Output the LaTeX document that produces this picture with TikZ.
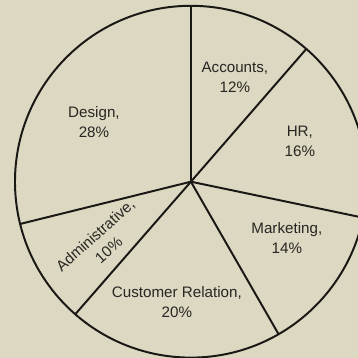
\documentclass[tikz,border=0pt]{standalone}
\usepackage{fontspec}
\setmainfont{Liberation Sans}
\usetikzlibrary{positioning}
\definecolor{bgpaper}{RGB}{220, 216, 194}
\definecolor{inkline}{RGB}{26, 24, 20}
\definecolor{inktext}{RGB}{40, 38, 34}

\begin{document}
\begin{tikzpicture}[
    slice/.style={draw=inkline, line width=1.4pt},
    share/.style={align=center, text=inktext, font=\fontsize{10.8}{14.2}\selectfont}]

    % Background
    \fill[bgpaper] (-4.775, -4.41) rectangle (4.175, 4.545);
    \useasboundingbox (-4.775, -4.41) rectangle (4.175, 4.545);

    % Pie
    \coordinate (c) at (0, 0);
    \draw[slice] (c) circle (4.4);
    \foreach \ang/\nm in {90/top, 49/acchr, -11.8/hrmkt, -60.1/mktcus, -131.1/cusadm, 193.9/admdes}
        \coordinate (\nm) at (\ang:4.4);
    \foreach \nm in {top, acchr, hrmkt, mktcus, cusadm, admdes}
        \draw[slice] (c) -- (\nm);

    % Labels
    \node[share] (acc) at (1.1, 2.62) {Accounts,\\12\%};
    \node[share] (hr) at (2.725, 1.02) {HR,\\16\%};
    \node[share] (mkt) at (2.4, -1.41) {Marketing,\\14\%};
    \node[share] (cus) at (-0.35, -3.01) {Customer Relation,\\20\%};
    \node[share, rotate=42] (adm) at (-2.225, -1.52) {Administrative,\\10\%};
    \node[share] (des) at (-2.425, 1.49) {Design,\\28\%};
\end{tikzpicture}
\end{document}
